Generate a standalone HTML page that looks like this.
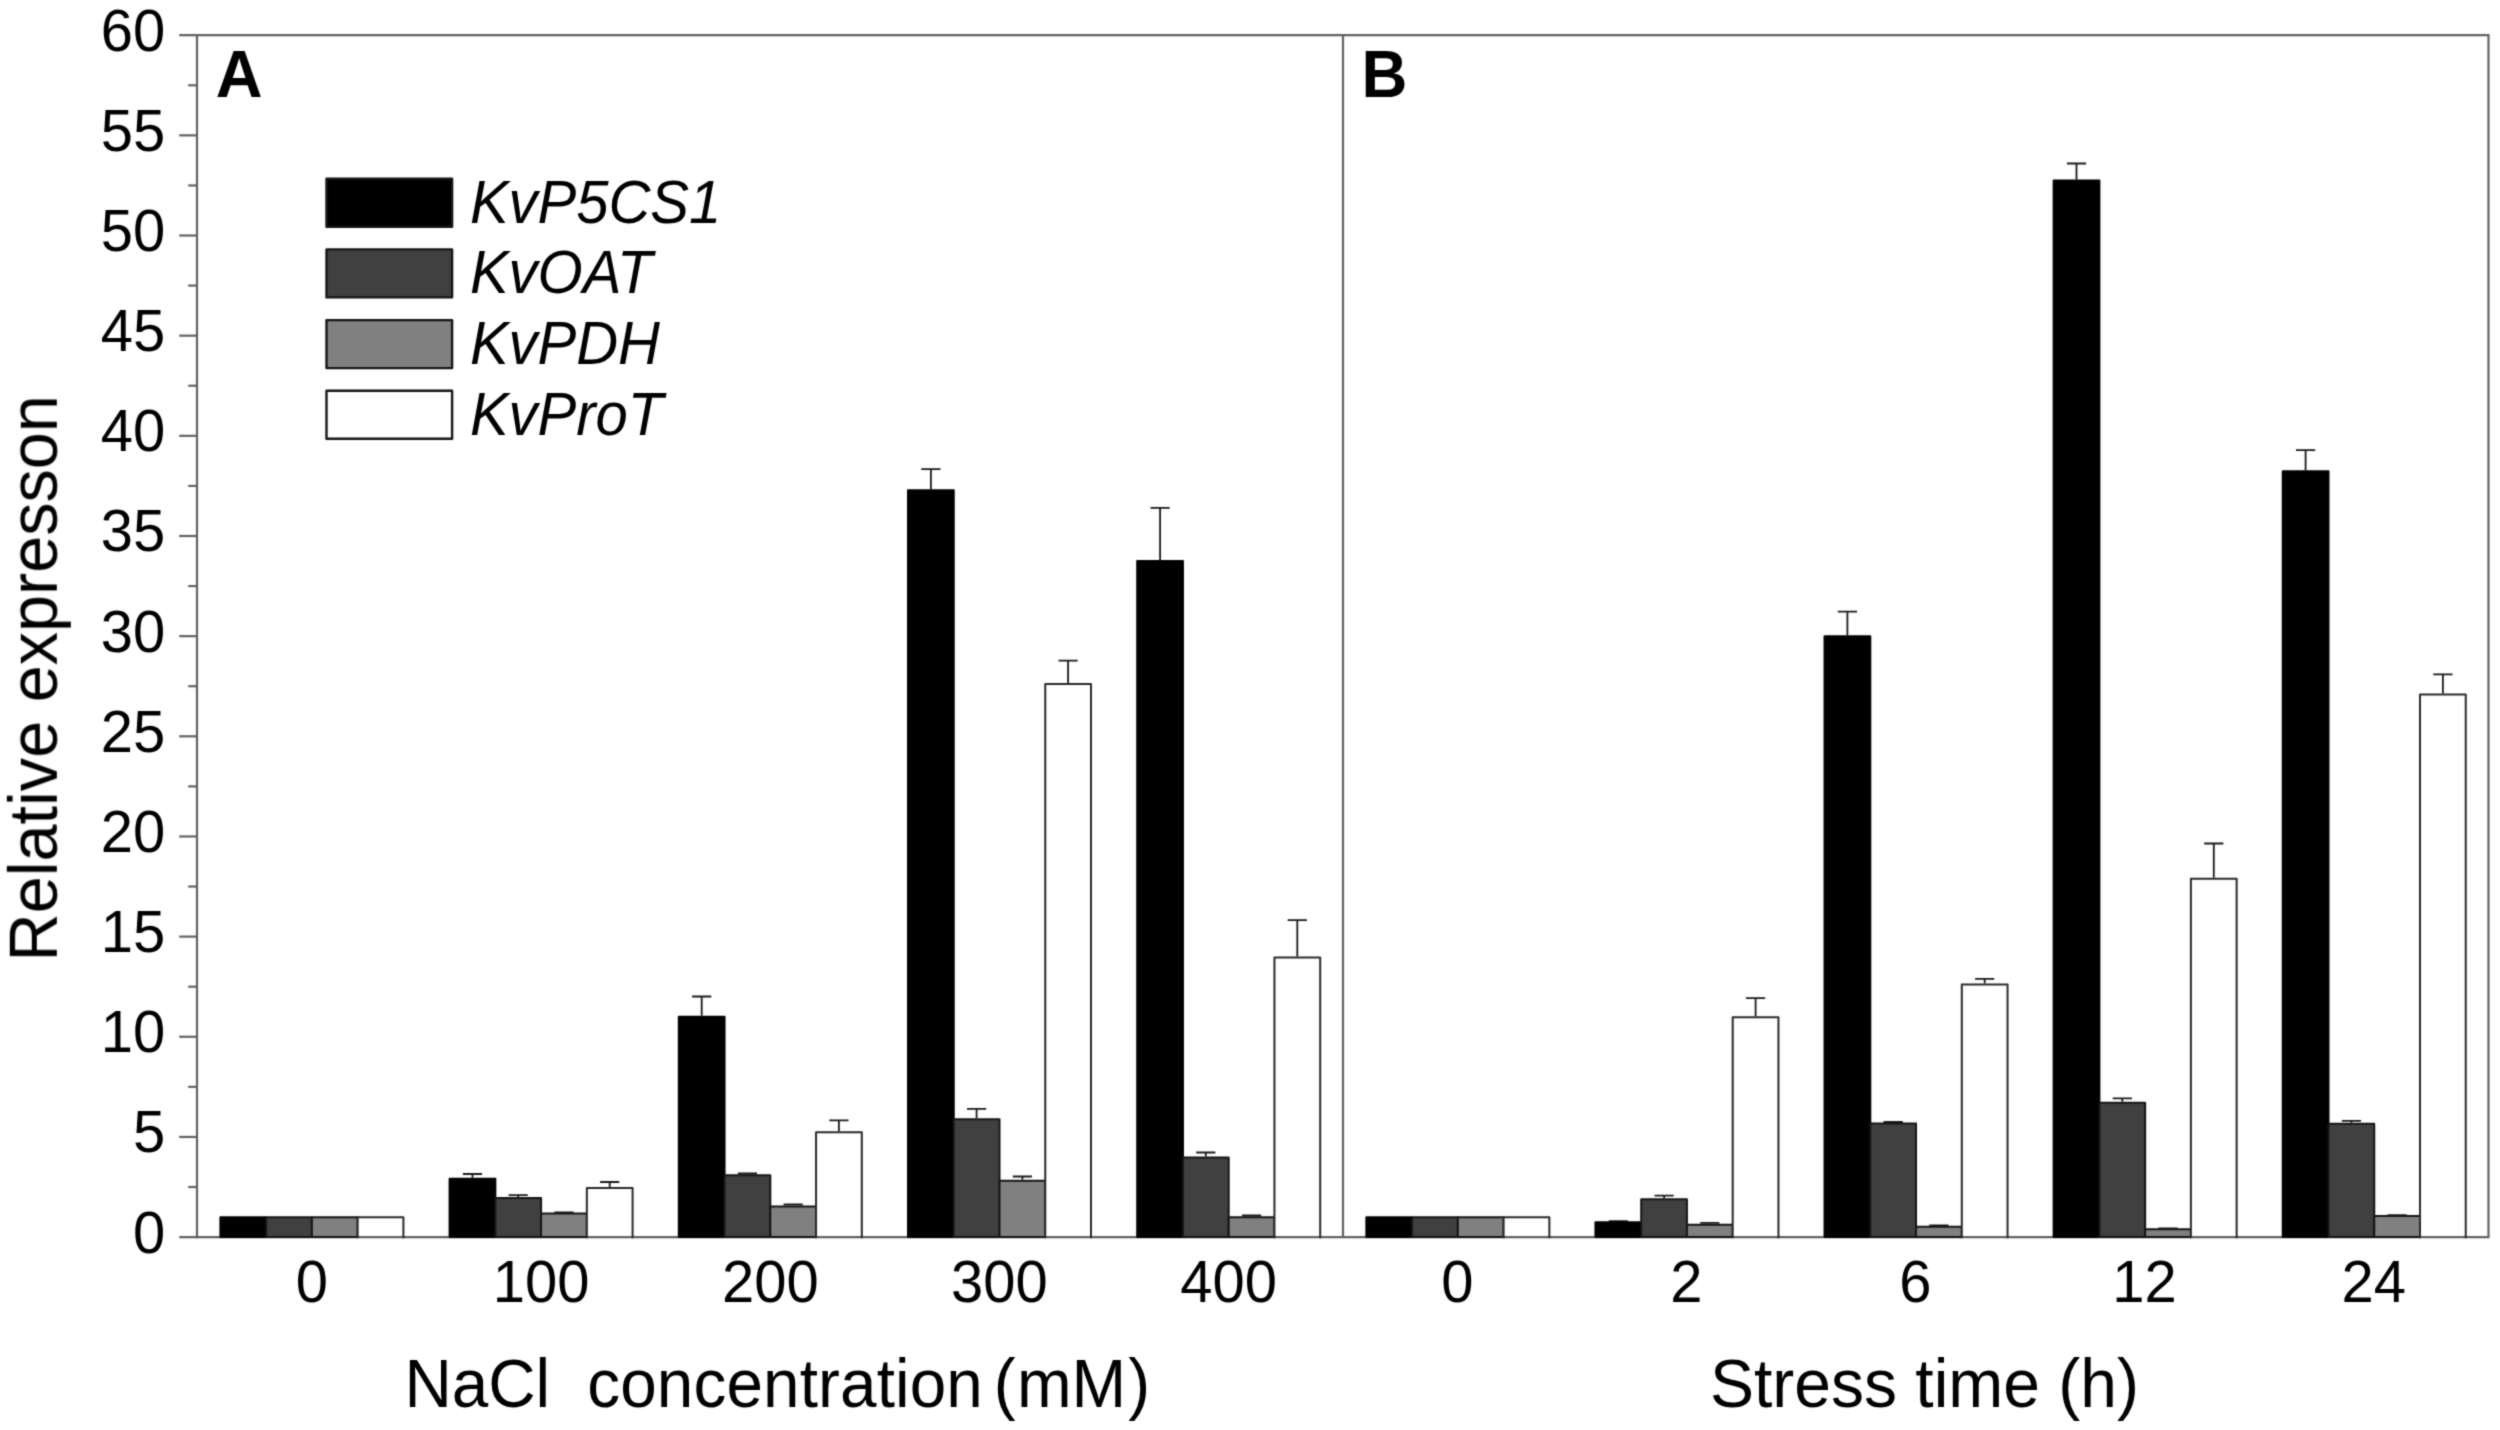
<!DOCTYPE html>
<html lang="en"><head><meta charset="utf-8"><title>Relative expression of KvP5CS1, KvOAT, KvPDH and KvProT</title>
<style>html,body{margin:0;padding:0;background:#fff}body{width:2500px;height:1430px;overflow:hidden}svg{display:block}text{font-family:"Liberation Sans",sans-serif;fill:#000}.tk{font-size:58px}.ti{font-size:65.6px}.tb{font-size:66px}.ty{font-size:66.6px}.lg{font-size:58px;font-style:italic}.pl{font-size:63px;font-weight:bold}</style></head><body>
<svg width="2500" height="1430" viewBox="0 0 2500 1430">
<defs><filter id="soft" x="0" y="0" width="2500" height="1430" filterUnits="userSpaceOnUse" color-interpolation-filters="sRGB"><feConvolveMatrix order="3" kernelMatrix="0.0289 0.1122 0.0289 0.1122 0.4356 0.1122 0.0289 0.1122 0.0289" divisor="1" edgeMode="duplicate" preserveAlpha="true"/></filter></defs>
<g filter="url(#soft)">
<rect x="0" y="0" width="2500" height="1430" fill="#fff"/>
<g stroke="#626262" stroke-width="2.2" fill="none" stroke-linecap="butt">
<path d="M179.2 35.2 H2488.5 V1237.1 H179.2"/>
<path d="M197.0 34.0 V1238.3"/>
<path d="M1343.0 35.2 V1237.1"/>
<path d="M179.2 1136.94 H197.0"/>
<path d="M179.2 1036.78 H197.0"/>
<path d="M179.2 936.62 H197.0"/>
<path d="M179.2 836.47 H197.0"/>
<path d="M179.2 736.31 H197.0"/>
<path d="M179.2 636.15 H197.0"/>
<path d="M179.2 535.99 H197.0"/>
<path d="M179.2 435.83 H197.0"/>
<path d="M179.2 335.68 H197.0"/>
<path d="M179.2 235.52 H197.0"/>
<path d="M179.2 135.36 H197.0"/>
<path d="M188.2 1187.02 H197.0"/>
<path d="M188.2 1086.86 H197.0"/>
<path d="M188.2 986.70 H197.0"/>
<path d="M188.2 886.55 H197.0"/>
<path d="M188.2 786.39 H197.0"/>
<path d="M188.2 686.23 H197.0"/>
<path d="M188.2 586.07 H197.0"/>
<path d="M188.2 485.91 H197.0"/>
<path d="M188.2 385.75 H197.0"/>
<path d="M188.2 285.60 H197.0"/>
<path d="M188.2 185.44 H197.0"/>
<path d="M188.2 85.28 H197.0"/>
</g>
<text class="tk" text-anchor="end" transform="translate(165.30 1252.50) scale(1 1.035)">0</text>
<text class="tk" text-anchor="end" transform="translate(165.30 1152.34) scale(1 1.035)">5</text>
<text class="tk" text-anchor="end" transform="translate(165.30 1052.18) scale(1 1.035)">10</text>
<text class="tk" text-anchor="end" transform="translate(165.30 952.02) scale(1 1.035)">15</text>
<text class="tk" text-anchor="end" transform="translate(165.30 851.87) scale(1 1.035)">20</text>
<text class="tk" text-anchor="end" transform="translate(165.30 751.71) scale(1 1.035)">25</text>
<text class="tk" text-anchor="end" transform="translate(165.30 651.55) scale(1 1.035)">30</text>
<text class="tk" text-anchor="end" transform="translate(165.30 551.39) scale(1 1.035)">35</text>
<text class="tk" text-anchor="end" transform="translate(165.30 451.23) scale(1 1.035)">40</text>
<text class="tk" text-anchor="end" transform="translate(165.30 351.08) scale(1 1.035)">45</text>
<text class="tk" text-anchor="end" transform="translate(165.30 250.92) scale(1 1.035)">50</text>
<text class="tk" text-anchor="end" transform="translate(165.30 150.76) scale(1 1.035)">55</text>
<text class="tk" text-anchor="end" transform="translate(165.30 50.60) scale(1 1.035)">60</text>
<text class="ty" text-anchor="middle" transform="translate(57.3 678.3) rotate(-90) scale(1 1.04)">Relative expresson</text>
<g stroke="#1a1a1a" stroke-width="1.8" fill="none">
</g>
<g stroke="#161616" stroke-width="2.0" stroke-linejoin="round">
<rect x="220.40" y="1217.30" width="45.75" height="19.80" fill="#000000" stroke="#000"/>
<rect x="266.15" y="1217.30" width="45.75" height="19.80" fill="#404040"/>
<rect x="311.90" y="1217.30" width="45.75" height="19.80" fill="#808080"/>
<rect x="357.65" y="1217.30" width="45.75" height="18.70" fill="#fff" stroke="none"/>
<path d="M357.65 1238.20 V1217.30 H403.40 V1238.20" fill="none" stroke="#2a2a2a"/>
</g>
<g stroke="#1a1a1a" stroke-width="1.8" fill="none">
<path d="M472.5 1177.7 V1174.0 M462.9 1174.0 H482.1"/>
<path d="M518.2 1197.0 V1195.1 M508.6 1195.1 H527.8"/>
<path d="M564.0 1212.5 V1212.4 M554.4 1212.4 H573.6"/>
<path d="M609.7 1187.0 V1182.0 M600.1 1182.0 H619.3"/>
</g>
<g stroke="#161616" stroke-width="2.0" stroke-linejoin="round">
<rect x="449.60" y="1178.70" width="45.75" height="58.40" fill="#000000" stroke="#000"/>
<rect x="495.35" y="1198.00" width="45.75" height="39.10" fill="#404040"/>
<rect x="541.10" y="1213.50" width="45.75" height="23.60" fill="#808080"/>
<rect x="586.85" y="1188.00" width="45.75" height="48.00" fill="#fff" stroke="none"/>
<path d="M586.85 1238.20 V1188.00 H632.60 V1238.20" fill="none" stroke="#2a2a2a"/>
</g>
<g stroke="#1a1a1a" stroke-width="1.8" fill="none">
<path d="M701.7 1015.7 V996.5 M692.1 996.5 H711.3"/>
<path d="M747.4 1174.2 V1173.5 M737.8 1173.5 H757.0"/>
<path d="M793.2 1205.5 V1204.5 M783.6 1204.5 H802.8"/>
<path d="M838.9 1131.3 V1120.3 M829.3 1120.3 H848.5"/>
</g>
<g stroke="#161616" stroke-width="2.0" stroke-linejoin="round">
<rect x="678.80" y="1016.70" width="45.75" height="220.40" fill="#000000" stroke="#000"/>
<rect x="724.55" y="1175.20" width="45.75" height="61.90" fill="#404040"/>
<rect x="770.30" y="1206.50" width="45.75" height="30.60" fill="#808080"/>
<rect x="816.05" y="1132.30" width="45.75" height="103.70" fill="#fff" stroke="none"/>
<path d="M816.05 1238.20 V1132.30 H861.80 V1238.20" fill="none" stroke="#2a2a2a"/>
</g>
<g stroke="#1a1a1a" stroke-width="1.8" fill="none">
<path d="M930.9 489.3 V469.1 M921.3 469.1 H940.5"/>
<path d="M976.6 1118.2 V1108.8 M967.0 1108.8 H986.2"/>
<path d="M1022.4 1179.8 V1176.5 M1012.8 1176.5 H1032.0"/>
<path d="M1068.1 683.1 V660.6 M1058.5 660.6 H1077.7"/>
</g>
<g stroke="#161616" stroke-width="2.0" stroke-linejoin="round">
<rect x="908.00" y="490.30" width="45.75" height="746.80" fill="#000000" stroke="#000"/>
<rect x="953.75" y="1119.20" width="45.75" height="117.90" fill="#404040"/>
<rect x="999.50" y="1180.80" width="45.75" height="56.30" fill="#808080"/>
<rect x="1045.25" y="684.10" width="45.75" height="551.90" fill="#fff" stroke="none"/>
<path d="M1045.25 1238.20 V684.10 H1091.00 V1238.20" fill="none" stroke="#2a2a2a"/>
</g>
<g stroke="#1a1a1a" stroke-width="1.8" fill="none">
<path d="M1160.1 559.9 V507.8 M1150.5 507.8 H1169.7"/>
<path d="M1205.8 1156.5 V1152.5 M1196.2 1152.5 H1215.4"/>
<path d="M1251.6 1216.2 V1215.5 M1242.0 1215.5 H1261.2"/>
<path d="M1297.3 956.6 V920.2 M1287.7 920.2 H1306.9"/>
</g>
<g stroke="#161616" stroke-width="2.0" stroke-linejoin="round">
<rect x="1137.20" y="560.90" width="45.75" height="676.20" fill="#000000" stroke="#000"/>
<rect x="1182.95" y="1157.50" width="45.75" height="79.60" fill="#404040"/>
<rect x="1228.70" y="1217.20" width="45.75" height="19.90" fill="#808080"/>
<rect x="1274.45" y="957.60" width="45.75" height="278.40" fill="#fff" stroke="none"/>
<path d="M1274.45 1238.20 V957.60 H1320.20 V1238.20" fill="none" stroke="#2a2a2a"/>
</g>
<g stroke="#1a1a1a" stroke-width="1.8" fill="none">
</g>
<g stroke="#161616" stroke-width="2.0" stroke-linejoin="round">
<rect x="1366.35" y="1217.30" width="45.75" height="19.80" fill="#000000" stroke="#000"/>
<rect x="1412.10" y="1217.30" width="45.75" height="19.80" fill="#404040"/>
<rect x="1457.85" y="1217.30" width="45.75" height="19.80" fill="#808080"/>
<rect x="1503.60" y="1217.30" width="45.75" height="18.70" fill="#fff" stroke="none"/>
<path d="M1503.60 1238.20 V1217.30 H1549.35 V1238.20" fill="none" stroke="#2a2a2a"/>
</g>
<g stroke="#1a1a1a" stroke-width="1.8" fill="none">
<path d="M1618.3 1221.2 V1221.1 M1608.7 1221.1 H1627.9"/>
<path d="M1664.1 1198.2 V1195.6 M1654.5 1195.6 H1673.7"/>
<path d="M1709.8 1223.7 V1222.8 M1700.2 1222.8 H1719.4"/>
<path d="M1755.6 1016.2 V998.2 M1746.0 998.2 H1765.2"/>
</g>
<g stroke="#161616" stroke-width="2.0" stroke-linejoin="round">
<rect x="1595.45" y="1222.20" width="45.75" height="14.90" fill="#000000" stroke="#000"/>
<rect x="1641.20" y="1199.20" width="45.75" height="37.90" fill="#404040"/>
<rect x="1686.95" y="1224.70" width="45.75" height="12.40" fill="#808080"/>
<rect x="1732.70" y="1017.20" width="45.75" height="218.80" fill="#fff" stroke="none"/>
<path d="M1732.70 1238.20 V1017.20 H1778.45 V1238.20" fill="none" stroke="#2a2a2a"/>
</g>
<g stroke="#1a1a1a" stroke-width="1.8" fill="none">
<path d="M1847.4 635.2 V611.6 M1837.8 611.6 H1857.0"/>
<path d="M1893.2 1122.6 V1122.0 M1883.6 1122.0 H1902.8"/>
<path d="M1938.9 1225.7 V1225.5 M1929.3 1225.5 H1948.5"/>
<path d="M1984.7 983.5 V978.9 M1975.1 978.9 H1994.3"/>
</g>
<g stroke="#161616" stroke-width="2.0" stroke-linejoin="round">
<rect x="1824.55" y="636.20" width="45.75" height="600.90" fill="#000000" stroke="#000"/>
<rect x="1870.30" y="1123.60" width="45.75" height="113.50" fill="#404040"/>
<rect x="1916.05" y="1226.70" width="45.75" height="10.40" fill="#808080"/>
<rect x="1961.80" y="984.50" width="45.75" height="251.50" fill="#fff" stroke="none"/>
<path d="M1961.80 1238.20 V984.50 H2007.55 V1238.20" fill="none" stroke="#2a2a2a"/>
</g>
<g stroke="#1a1a1a" stroke-width="1.8" fill="none">
<path d="M2076.5 179.5 V163.5 M2066.9 163.5 H2086.1"/>
<path d="M2122.3 1101.7 V1098.4 M2112.7 1098.4 H2131.9"/>
<path d="M2168.0 1228.3 V1228.5 M2158.4 1228.5 H2177.6"/>
<path d="M2213.8 877.8 V843.5 M2204.2 843.5 H2223.4"/>
</g>
<g stroke="#161616" stroke-width="2.0" stroke-linejoin="round">
<rect x="2053.65" y="180.50" width="45.75" height="1056.60" fill="#000000" stroke="#000"/>
<rect x="2099.40" y="1102.70" width="45.75" height="134.40" fill="#404040"/>
<rect x="2145.15" y="1229.30" width="45.75" height="7.80" fill="#808080"/>
<rect x="2190.90" y="878.80" width="45.75" height="357.20" fill="#fff" stroke="none"/>
<path d="M2190.90 1238.20 V878.80 H2236.65 V1238.20" fill="none" stroke="#2a2a2a"/>
</g>
<g stroke="#1a1a1a" stroke-width="1.8" fill="none">
<path d="M2305.6 470.2 V450.1 M2296.0 450.1 H2315.2"/>
<path d="M2351.4 1122.7 V1120.9 M2341.8 1120.9 H2361.0"/>
<path d="M2397.1 1214.9 V1215.1 M2387.5 1215.1 H2406.7"/>
<path d="M2442.9 693.4 V674.4 M2433.3 674.4 H2452.5"/>
</g>
<g stroke="#161616" stroke-width="2.0" stroke-linejoin="round">
<rect x="2282.75" y="471.20" width="45.75" height="765.90" fill="#000000" stroke="#000"/>
<rect x="2328.50" y="1123.70" width="45.75" height="113.40" fill="#404040"/>
<rect x="2374.25" y="1215.90" width="45.75" height="21.20" fill="#808080"/>
<rect x="2420.00" y="694.40" width="45.75" height="541.60" fill="#fff" stroke="none"/>
<path d="M2420.00 1238.20 V694.40 H2465.75 V1238.20" fill="none" stroke="#2a2a2a"/>
</g>
<text class="tk" text-anchor="middle" transform="translate(311.90 1301.70) scale(1 1.035)">0</text>
<text class="tk" text-anchor="middle" transform="translate(541.10 1301.70) scale(1 1.035)">100</text>
<text class="tk" text-anchor="middle" transform="translate(770.30 1301.70) scale(1 1.035)">200</text>
<text class="tk" text-anchor="middle" transform="translate(999.50 1301.70) scale(1 1.035)">300</text>
<text class="tk" text-anchor="middle" transform="translate(1228.70 1301.70) scale(1 1.035)">400</text>
<text class="tk" text-anchor="middle" transform="translate(1457.25 1301.70) scale(1 1.035)">0</text>
<text class="tk" text-anchor="middle" transform="translate(1686.35 1301.70) scale(1 1.035)">2</text>
<text class="tk" text-anchor="middle" transform="translate(1915.45 1301.70) scale(1 1.035)">6</text>
<text class="tk" text-anchor="middle" transform="translate(2144.55 1301.70) scale(1 1.035)">12</text>
<text class="tk" text-anchor="middle" transform="translate(2373.65 1301.70) scale(1 1.035)">24</text>
<text class="ti" transform="translate(0 1407.2) scale(1 1.04)" xml:space="preserve"><tspan x="404.40">NaCl  </tspan><tspan x="587.30" letter-spacing="0.15">concentration </tspan><tspan x="993.70">(</tspan><tspan x="1016.95">mM</tspan><tspan x="1128.14">)</tspan></text>
<text class="tb" transform="translate(1709.92 1407.2) scale(1 1.045)">Stress time (h)</text>
<text class="pl" text-anchor="start" transform="translate(215.80 97.30) scale(1 1.035)" style="font-size:64.8px">A</text>
<text class="pl" text-anchor="start" transform="translate(1361.50 97.30) scale(1 1.040)" style="font-size:63.5px">B</text>
<rect x="326.5" y="178.7" width="125.6" height="48.0" fill="#000000" stroke="#161616" stroke-width="2.4" stroke-linejoin="round"/>
<text class="lg" text-anchor="start" transform="translate(469.90 222.60) scale(1 1.060)">KvP5CS1</text>
<rect x="326.5" y="249.4" width="125.6" height="48.0" fill="#404040" stroke="#161616" stroke-width="2.4" stroke-linejoin="round"/>
<text class="lg" text-anchor="start" transform="translate(469.90 292.90) scale(1 1.060)">KvOAT</text>
<rect x="326.5" y="320.1" width="125.6" height="48.0" fill="#808080" stroke="#161616" stroke-width="2.4" stroke-linejoin="round"/>
<text class="lg" text-anchor="start" transform="translate(469.90 363.50) scale(1 1.060)">KvPDH</text>
<rect x="326.5" y="390.8" width="125.6" height="48.0" fill="#ffffff" stroke="#161616" stroke-width="2.4" stroke-linejoin="round"/>
<text class="lg" text-anchor="start" transform="translate(469.90 434.90) scale(1 1.060)">KvProT</text>
</g></svg></body></html>
